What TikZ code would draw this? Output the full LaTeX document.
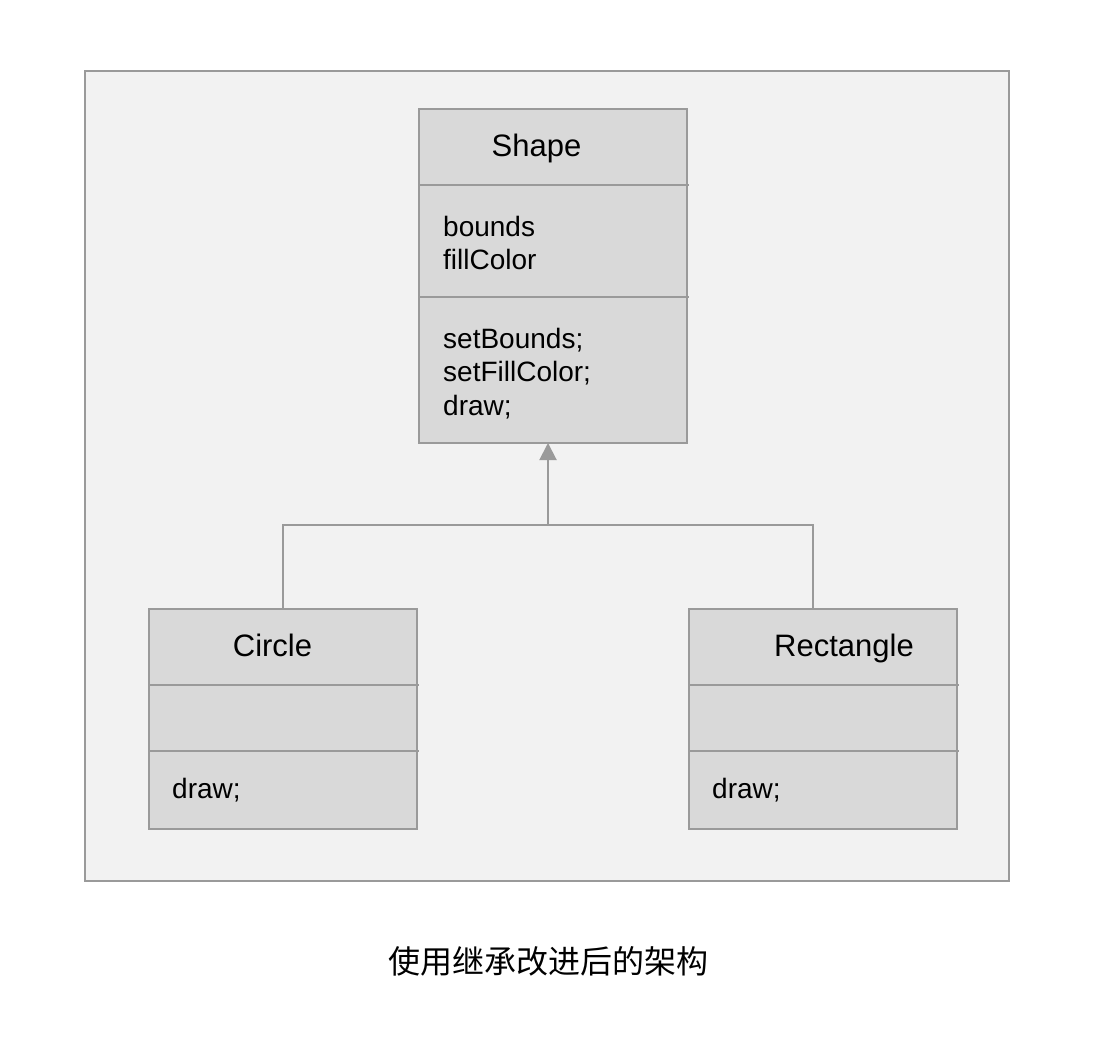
\documentclass[tikz,border=0pt]{standalone}
\usepackage{fontspec}
\setmainfont{Liberation Sans}
\newfontfamily\cjk{Noto Sans CJK SC}
\usetikzlibrary{arrows.meta}
\definecolor{frameFill}{HTML}{F2F2F2}
\definecolor{boxFill}{HTML}{D9D9D9}
\definecolor{lineGray}{HTML}{9A9A9A}
\tikzset{
  umlbox/.style={draw=lineGray, fill=boxFill, line width=2pt, inner sep=0pt, outer sep=0pt, anchor=north west},
  sepline/.style={draw=lineGray, line width=2pt},
  conn/.style={draw=lineGray, line width=2pt},
  titletxt/.style={font=\fontsize{31}{37}\selectfont, anchor=base, inner sep=0pt},
  bodytxt/.style={font=\fontsize{28}{33.5}\selectfont, anchor=base west, inner sep=0pt}
}
\begin{document}
\begin{tikzpicture}[x=1pt, y=-1pt]
\useasboundingbox (0,0) rectangle (1110,1062);
\fill[white] (0,0) rectangle (1110,1062);
% outer frame
\node[draw=lineGray, fill=frameFill, line width=2pt, inner sep=0pt, outer sep=0pt, anchor=north west,
      minimum width=924pt, minimum height=810pt] (frame) at (85,71) {};
% Shape class
\node[umlbox, minimum width=268pt, minimum height=334pt] (shape) at (419,109) {};
\draw[sepline] (418,185) -- (689,185);
\draw[sepline] (418,297) -- (689,297);
\node[titletxt] (shapeT) at (536.5,156) {Shape};
\node[bodytxt] (a1) at (443,236) {bounds};
\node[bodytxt] (a2) at (443,269.5) {fillColor};
\node[bodytxt] (m1) at (443,348) {setBounds;};
\node[bodytxt] (m2) at (443,381.5) {setFillColor;};
\node[bodytxt] (m3) at (443,415) {draw;};
% Circle class
\node[umlbox, minimum width=268pt, minimum height=220pt] (circle) at (149,609) {};
\draw[sepline] (148,685) -- (419,685);
\draw[sepline] (148,751) -- (419,751);
\node[titletxt] (circleT) at (272.5,656) {Circle};
\node[bodytxt] (cm) at (172,798) {draw;};
% Rectangle class
\node[umlbox, minimum width=268pt, minimum height=220pt] (rect) at (689,609) {};
\draw[sepline] (688,685) -- (959,685);
\draw[sepline] (688,751) -- (959,751);
\node[titletxt] (rectT) at (844,656) {Rectangle};
\node[bodytxt] (rm) at (712,798) {draw;};
% connectors
\coordinate (j) at (548,525);
\draw[conn] ([xshift=-10pt]rect.north) |- (j) -| (circle.north);
\draw[conn, -{Triangle[width=17pt,length=17pt]}, fill=lineGray] (j) -- (j |- shape.south);
% caption
\node[font=\cjk\fontsize{32}{38}\selectfont, anchor=base, inner sep=0pt] (cap) at (548,973) {使用继承改进后的架构};
\end{tikzpicture}
\end{document}
